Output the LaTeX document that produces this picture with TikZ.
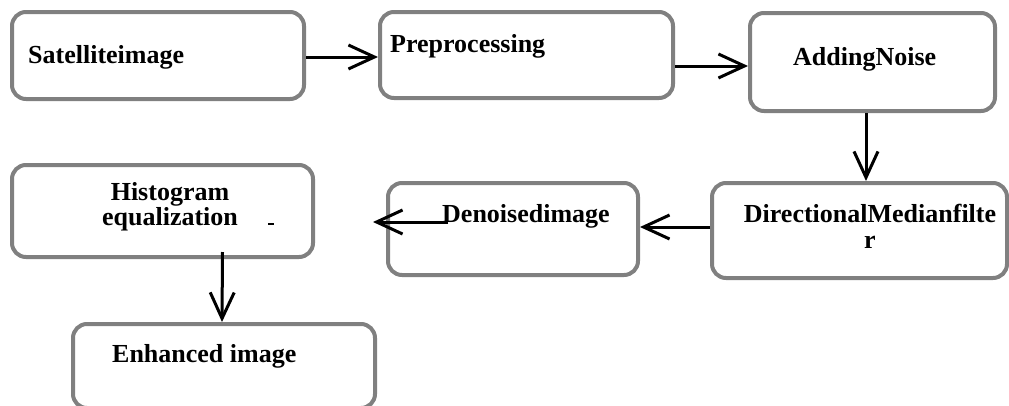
\documentclass[tikz,border=0pt]{standalone}
\usepackage{fontspec}
\setmainfont{Liberation Serif}
\usetikzlibrary{arrows.meta}
\tikzset{> = {Straight Barb[length=26pt, width=24pt]},
  box/.style = {draw=gray, line width=4pt, rounded corners=14pt, inner sep=0pt},
  txt/.style = {font=\fontsize{26}{22}\selectfont\bfseries, inner sep=0pt, align=center},
  flow/.style = {->, line width=3pt}}

\begin{document}
\begin{tikzpicture}[x=1pt, y=-1pt]
\useasboundingbox (0,0) rectangle (1009,405);
% boxes
\node[box, minimum width=292pt, minimum height=87pt] (sat) at (158,55.5) {};
\node[box, minimum width=293pt, minimum height=86pt] (prep) at (526.5,55) {};
\node[box, minimum width=245pt, minimum height=98pt] (add) at (872.5,62) {};
\node[box, minimum width=295pt, minimum height=95pt] (dmf) at (859.5,230.5) {};
\node[box, minimum width=250pt, minimum height=92pt] (den) at (513,229) {};
\node[box, minimum width=301pt, minimum height=92pt] (hist) at (162.5,211) {};
\node[box, minimum width=302pt, minimum height=84pt] (enh) at (224,366) {};
% texts
\node[txt, anchor=base west] (sattxt) at (28,63) {Satelliteimage};
\node[txt, anchor=base west] (preptxt) at (390,52) {Preprocessing};
\node[txt, anchor=base west] (addtxt) at (793,65) {AddingNoise};
\node[txt, anchor=base, font=\fontsize{26}{26}\selectfont\bfseries] (dmftxt) at (870,248) {DirectionalMedianfilte\\r};
\node[txt, anchor=base west] (dentxt) at (442,222) {Denoisedimage};
\node[txt, anchor=base] (histtxt) at (170,225) {Histogram\\equalization};
\node[txt, anchor=base west] (enhtxt) at (112,362) {Enhanced image};
\node[fill=black, minimum width=6pt, minimum height=2pt, inner sep=0pt] (dash) at (271,224) {};
% edges
\coordinate (denstart) at (448,222);
\coordinate (denend) at (373,222);
\draw[flow] ([yshift=-1.5pt]sat.east) -- ([yshift=-2pt]prep.west);
\draw[flow] ([yshift=-11pt]prep.east) -- ([yshift=-4pt]add.west);
\draw[flow] ([xshift=-6.5pt]add.south) -- ([xshift=6.5pt]dmf.north);
\draw[flow] ([yshift=3.5pt]dmf.west) -- ([yshift=2pt]den.east);
\draw[flow] (denstart) -- (denend);
\draw[flow] ([xshift=60pt, yshift=7pt]hist.south) -- ([xshift=-2pt]enh.north);
\end{tikzpicture}
\end{document}
